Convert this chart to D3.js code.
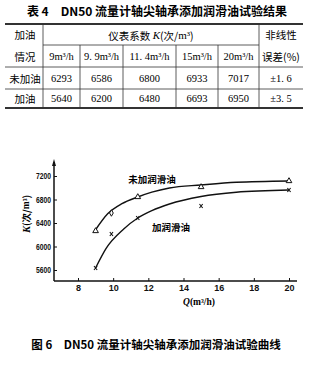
<!DOCTYPE html>
<html>
<head>
<meta charset="utf-8">
<script src="https://cdn.jsdelivr.net/npm/d3@7"></script>
<style>
  body { margin: 0; background: #fff; }
  svg { display: block; }
</style>
</head>
<body>
<svg></svg>
<script>
const [svgWidth, svgHeight] = [314, 365];
const cjk = '"Noto Sans CJK SC", sans-serif';
const serif = '"Liberation Serif", "DejaVu Serif", serif';

// table data
const flowHeaders = ['9m³/h', '9. 9m³/h', '11. 4m³/h', '15m³/h', '20m³/h'];
const rowLabels = ['未加油', '加油'];
const kNoOil = [6293, 6586, 6800, 6933, 7017];
const kOil = [5640, 6200, 6480, 6693, 6950];
const errors = ['±1. 6', '±3. 5'];

// chart data
const flows = [9, 9.9, 11.4, 15, 20];
const plotNoOil = [6264, 6570, 6843, 7013, 7115];
const plotOil = [5634, 6213, 6485, 6689, 6962];
const markNoOil = ['tri', 'dia', 'tri', 'tri', 'tri'];
// fitted curves as drawn
const curveNoOilQ = [9, 9.7, 10.5, 11.4, 12.2, 13.2, 15, 17, 20];
const curveNoOilK = [6285, 6560, 6730, 6843, 6925, 6996, 7047, 7093, 7115];
const curveOilQ = [9, 9.6, 10.6, 11.4, 12.2, 13.2, 15, 17, 20];
const curveOilK = [5634, 5969, 6298, 6485, 6610, 6723, 6851, 6924, 6962];
const xTicks = [8, 10, 12, 14, 16, 18, 20];
const yTicks = [5600, 6000, 6400, 6800, 7200];

const svg = d3.select('svg')
  .attr('width', svgWidth)
  .attr('height', svgHeight);

// ---------- title ----------
svg.append('text')
  .attr('x', 157).attr('y', 16)
  .attr('text-anchor', 'middle')
  .style('font-family', cjk).style('font-weight', 'bold').style('font-size', '12px')
  .text('表 4　DN50 流量计轴尖轴承添加润滑油试验结果');

// ---------- table ----------
const colEdges = [5, 43, 80, 123, 176, 218, 259, 303];
const rowEdges = [24, 45, 67, 89, 108];
const tbl = svg.append('g').attr('stroke', '#333');
const hline = (x1, x2, yy, w) => tbl.append('line')
  .attr('x1', x1).attr('x2', x2).attr('y1', yy).attr('y2', yy).attr('stroke-width', w);
const vline = (xx, y1, y2) => tbl.append('line')
  .attr('x1', xx).attr('x2', xx).attr('y1', y1).attr('y2', y2).attr('stroke-width', 0.8);
hline(colEdges[0], colEdges[7], rowEdges[0], 2);
hline(colEdges[1], colEdges[6], rowEdges[1], 0.8);
hline(colEdges[0], colEdges[7], rowEdges[2], 0.8);
hline(colEdges[0], colEdges[7], rowEdges[3], 0.8);
hline(colEdges[0], colEdges[7], rowEdges[4], 2);
vline(colEdges[1], rowEdges[0], rowEdges[4]);
vline(colEdges[6], rowEdges[0], rowEdges[4]);
[2, 3, 4, 5].forEach(i => vline(colEdges[i], rowEdges[1], rowEdges[4]));

const cell = (cx, cy, txt, fam, size) => svg.append('text')
  .attr('x', cx).attr('y', cy)
  .attr('text-anchor', 'middle')
  .attr('dominant-baseline', 'central')
  .style('font-family', fam).style('font-size', size)
  .text(txt);
const mid = (a, b) => (a + b) / 2;

cell(mid(colEdges[0], colEdges[1]) + 1, mid(rowEdges[0], rowEdges[1]), '加油', cjk, '10.5px');
cell(mid(colEdges[0], colEdges[1]) + 1, mid(rowEdges[1], rowEdges[2]), '情况', cjk, '10.5px');
const kHead = svg.append('text')
  .attr('x', mid(colEdges[1], colEdges[6])).attr('y', mid(rowEdges[0], rowEdges[1]))
  .attr('text-anchor', 'middle').attr('dominant-baseline', 'central')
  .style('font-family', cjk).style('font-size', '10.5px');
kHead.append('tspan').text('仪表系数 ');
kHead.append('tspan').style('font-family', serif).style('font-style', 'italic').style('font-size', '11px').text('K');
kHead.append('tspan').text('(次/');
kHead.append('tspan').style('font-family', serif).style('font-size', '11px').text('m³');
kHead.append('tspan').text(')');
cell(mid(colEdges[6], colEdges[7]), mid(rowEdges[0], rowEdges[1]), '非线性', cjk, '10.5px');
cell(mid(colEdges[6], colEdges[7]), mid(rowEdges[1], rowEdges[2]), '误差(%)', cjk, '10.5px');

flowHeaders.forEach((h, i) => {
  cell(mid(colEdges[i + 1], colEdges[i + 2]), mid(rowEdges[1], rowEdges[2]), h, serif, '10.5px');
});
[kNoOil, kOil].forEach((row, r) => {
  const cy = mid(rowEdges[r + 2], rowEdges[r + 3]);
  cell(mid(colEdges[0], colEdges[1]) + 1, cy, rowLabels[r], cjk, '10.5px');
  row.forEach((v, i) => cell(mid(colEdges[i + 1], colEdges[i + 2]), cy, String(v), serif, '10.5px'));
  cell(mid(colEdges[6], colEdges[7]), cy, errors[r], serif, '10.5px');
});

// ---------- chart ----------
const x = d3.scaleLinear().domain([8, 20]).range([78, 289]);
const y = d3.scaleLinear().domain([5600, 7200]).range([270, 176]);
const axisY = 281, axisX = 54;

const chart = svg.append('g');
chart.append('line')
  .attr('x1', axisX).attr('x2', 297).attr('y1', axisY).attr('y2', axisY)
  .attr('stroke', '#111').attr('stroke-width', 1.5);
chart.append('line')
  .attr('x1', axisX).attr('x2', axisX).attr('y1', axisY).attr('y2', 162)
  .attr('stroke', '#111').attr('stroke-width', 1.5);
chart.append('path')
  .attr('d', `M${axisX - 2},166 L${axisX},159 L${axisX + 2},166 Z`)
  .attr('fill', '#111');

const xAxis = chart.append('g')
  .attr('transform', `translate(0, ${axisY})`)
  .call(d3.axisBottom(x).tickValues(xTicks).tickFormat(d3.format('d'))
    .tickSizeInner(-3).tickSizeOuter(0).tickPadding(4));
const yAxis = chart.append('g')
  .attr('transform', `translate(${axisX}, 0)`)
  .call(d3.axisLeft(y).tickValues(yTicks).tickFormat(d3.format('d'))
    .tickSizeInner(-3).tickSizeOuter(0).tickPadding(3));
[xAxis, yAxis].forEach(a => {
  a.select('.domain').remove();
  a.selectAll('.tick line').attr('stroke', '#111');
  a.selectAll('.tick text')
    .attr('fill', '#111')
    .style('font-family', '"Liberation Sans", Arial, sans-serif')
    .style('font-weight', 'bold')
    .style('font-size', '9px');
});
yAxis.selectAll('.tick text').attr('textLength', 15).attr('lengthAdjust', 'spacingAndGlyphs');

const line = d3.line()
  .x(d => x(d[0]))
  .y(d => y(d[1]))
  .curve(d3.curveMonotoneX);
[[curveNoOilQ, curveNoOilK], [curveOilQ, curveOilK]].forEach(([qs, ks]) => {
  chart.append('path')
    .attr('d', line(qs.map((q, i) => [q, ks[i]])))
    .attr('fill', 'none')
    .attr('stroke', '#111')
    .attr('stroke-width', 1.4);
});

const tri = d3.symbol().type(d3.symbolTriangle).size(14);
const dia = d3.symbol().type(d3.symbolDiamond).size(12);
chart.selectAll('.mNo')
  .data(flows.map((q, i) => ({ q, k: plotNoOil[i], m: markNoOil[i] })))
  .enter().append('path')
  .attr('class', 'mNo')
  .attr('transform', d => `translate(${x(d.q)}, ${y(d.k)})`)
  .attr('d', d => d.m === 'tri' ? tri() : dia())
  .attr('fill', '#fff')
  .attr('stroke', '#111')
  .attr('stroke-width', 1);

chart.selectAll('.mOil')
  .data(flows.map((q, i) => ({ q, k: plotOil[i] })))
  .enter().append('path')
  .attr('class', 'mOil')
  .attr('transform', d => `translate(${x(d.q)}, ${y(d.k)})`)
  .attr('d', 'M-1.6,-2L1.6,2M1.6,-2L-1.6,2')
  .attr('stroke', '#111')
  .attr('stroke-width', 1.1);

const label = (cx, cy, txt) => chart.append('text')
  .attr('x', cx).attr('y', cy)
  .attr('text-anchor', 'middle').attr('dominant-baseline', 'central')
  .style('font-family', cjk).style('font-weight', 'bold').style('font-size', '9.5px')
  .text(txt);
label(152, 179, '未加润滑油');
label(171, 227, '加润滑油');

// axis titles
const yTitle = chart.append('text')
  .attr('transform', 'translate(26, 214) rotate(-90)')
  .attr('text-anchor', 'middle').attr('dominant-baseline', 'central')
  .style('font-family', cjk).style('font-weight', 'bold').style('font-size', '9.5px');
yTitle.append('tspan').style('font-family', serif).style('font-style', 'italic').style('font-size', '10.5px').text('K');
yTitle.append('tspan').text('(次/');
yTitle.append('tspan').style('font-family', serif).text('m³');
yTitle.append('tspan').text(')');

const xTitle = chart.append('text')
  .attr('x', 199).attr('y', 302)
  .attr('text-anchor', 'middle').attr('dominant-baseline', 'central')
  .style('font-family', serif).style('font-weight', 'bold').style('font-size', '9.5px');
xTitle.append('tspan').style('font-style', 'italic').text('Q');
xTitle.append('tspan').text('(m³/h)');

// caption
svg.append('text')
  .attr('x', 156).attr('y', 344)
  .attr('text-anchor', 'middle')
  .attr('dominant-baseline', 'central')
  .style('font-family', cjk).style('font-weight', 'bold').style('font-size', '11.5px')
  .text('图 6　DN50 流量计轴尖轴承添加润滑油试验曲线');
</script>
</body>
</html>
